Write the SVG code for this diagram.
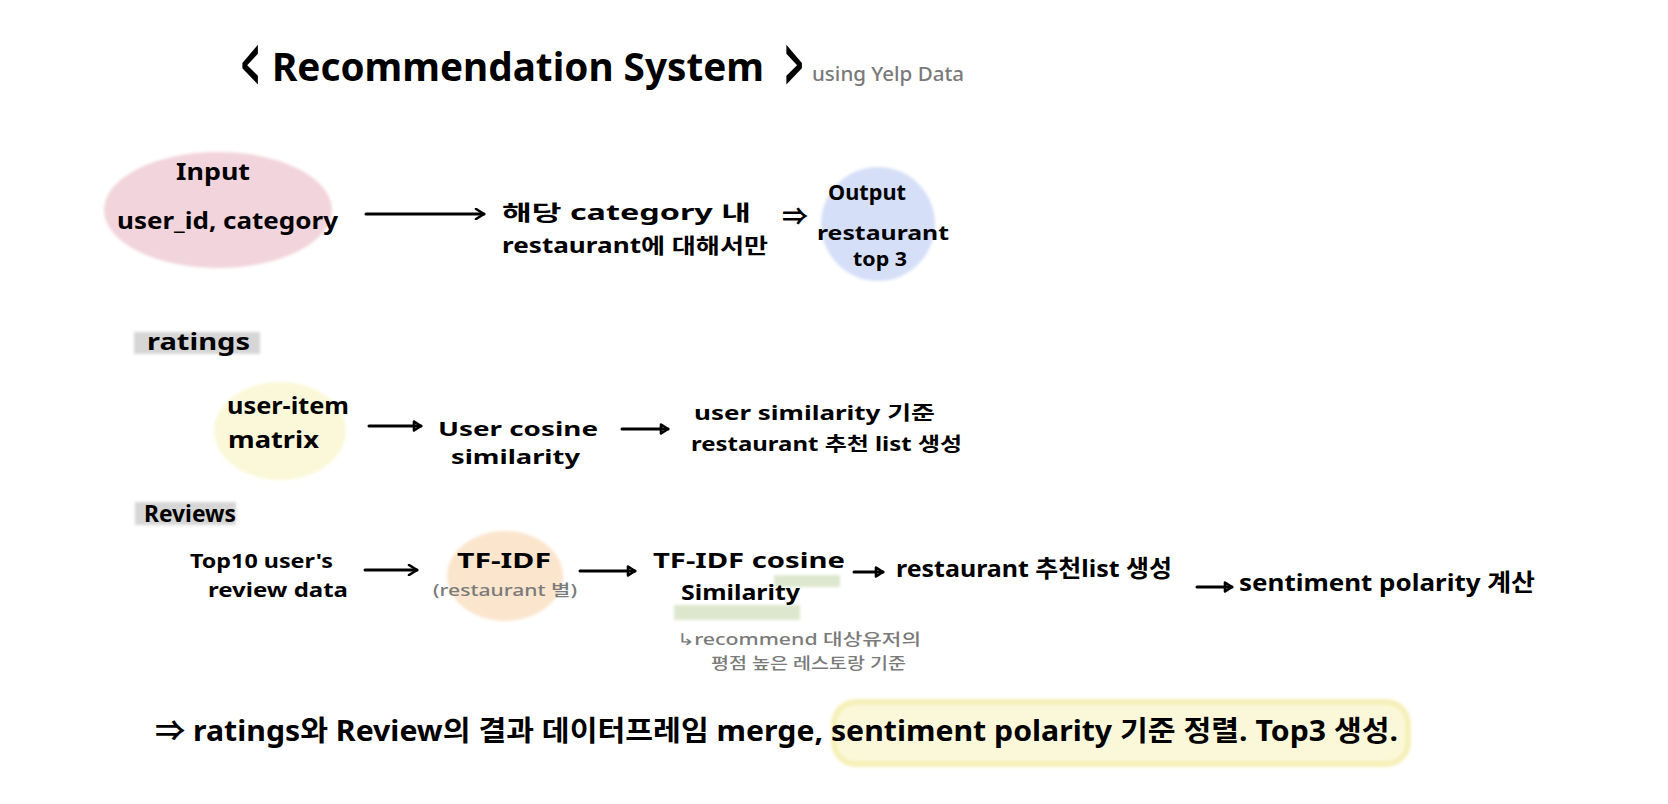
<svg xmlns="http://www.w3.org/2000/svg" width="1668" height="804" viewBox="0 0 1668 804">
<defs>
<filter id="soft" x="-10%" y="-10%" width="120%" height="120%"><feGaussianBlur stdDeviation="1.6"/></filter>
<marker id="open" viewBox="0 0 12 12" refX="10" refY="6" markerWidth="12" markerHeight="12" markerUnits="userSpaceOnUse" orient="auto"><path d="M2,1 L10,6 L2,11" fill="none" stroke="#000" stroke-width="2.6" stroke-linecap="round" stroke-linejoin="round"/></marker>
<marker id="tri" viewBox="0 0 12 12" refX="10" refY="6" markerWidth="12" markerHeight="12" markerUnits="userSpaceOnUse" orient="auto"><path d="M3,1.5 L10,6 L3,10.5 Z" fill="none" stroke="#000" stroke-width="2.6" stroke-linejoin="round"/></marker>
</defs>
<style>
text{font-family:"Noto Sans","Noto Sans CJK KR",sans-serif;font-weight:700;fill:#000}
.t{font-size:39px}
.br{font-family:"Noto Sans",sans-serif;font-size:40px;font-weight:700}
.m{font-size:24px}
.m2{font-size:21px}
.m3{font-size:19px}
.s{font-size:20px;fill:#7a7a7a;font-weight:500}
.s2{font-size:16px;fill:#7a7a7a;font-weight:500}
.b{font-size:28px}
.conn{fill:none;stroke:#000;stroke-width:3;stroke-linecap:round}
</style>
<rect width="1668" height="804" fill="#fff"/>

<g id="title">
<text class="br" transform="translate(241,92) scale(0.8,1.9)">&lt;</text>
<text class="t" x="272" y="81" textLength="492" lengthAdjust="spacingAndGlyphs">Recommendation System</text>
<text class="br" transform="translate(785,92) scale(0.8,1.9)">&gt;</text>
<text class="s" x="812" y="81" textLength="152" lengthAdjust="spacingAndGlyphs">using Yelp Data</text>
</g>

<g id="input">
<ellipse cx="218" cy="210" rx="114" ry="58" fill="#f2d4dc" filter="url(#soft)"/>
<text class="m" x="176" y="180" textLength="74" lengthAdjust="spacingAndGlyphs">Input</text>
<text class="m" x="117" y="229" textLength="221" lengthAdjust="spacingAndGlyphs">user_id, category</text>
</g>

<g id="filter-step">
<text class="m2" x="502" y="220" textLength="249" lengthAdjust="spacingAndGlyphs">해당 category 내</text>
<text class="m2" x="502" y="253" textLength="266" lengthAdjust="spacingAndGlyphs">restaurant에 대해서만</text>
<text class="m" x="782" y="225" textLength="26" lengthAdjust="spacingAndGlyphs">⇒</text>
</g>

<g id="output">
<circle cx="878" cy="224" r="57" fill="#d5dff8" filter="url(#soft)"/>
<text class="m2" x="828" y="200" textLength="78" lengthAdjust="spacingAndGlyphs">Output</text>
<text class="m3" x="817" y="240" textLength="132" lengthAdjust="spacingAndGlyphs">restaurant</text>
<text class="m3" x="853" y="266" textLength="54" lengthAdjust="spacingAndGlyphs">top 3</text>
</g>

<g id="ratings-label">
<rect x="134" y="332" width="126" height="22" fill="#d6d6d6" filter="url(#soft)"/>
<text class="m" x="147" y="350" textLength="103" lengthAdjust="spacingAndGlyphs">ratings</text>
</g>

<g id="user-item">
<ellipse cx="280" cy="431" rx="66" ry="49" fill="#fbf8d9" filter="url(#soft)"/>
<text class="m" x="227" y="414" textLength="122" lengthAdjust="spacingAndGlyphs">user-item</text>
<text class="m" x="228" y="448" textLength="91" lengthAdjust="spacingAndGlyphs">matrix</text>
</g>

<g id="user-cosine">
<text class="m3" x="438" y="436" textLength="160" lengthAdjust="spacingAndGlyphs">User cosine</text>
<text class="m3" x="451" y="464" textLength="129" lengthAdjust="spacingAndGlyphs">similarity</text>
</g>

<g id="user-rec">
<text class="m3" x="694" y="420" textLength="241" lengthAdjust="spacingAndGlyphs">user similarity 기준</text>
<text class="m3" x="691" y="451" textLength="271" lengthAdjust="spacingAndGlyphs">restaurant 추천 list 생성</text>
</g>

<g id="reviews-label">
<rect x="135" y="502" width="101" height="23" fill="#d6d6d6" filter="url(#soft)"/>
<text class="m" x="144" y="522" textLength="92" lengthAdjust="spacingAndGlyphs">Reviews</text>
</g>

<g id="top10">
<text class="m3" x="190" y="568" textLength="143" lengthAdjust="spacingAndGlyphs">Top10 user's</text>
<text class="m3" x="208" y="597" textLength="140" lengthAdjust="spacingAndGlyphs">review data</text>
</g>

<g id="tfidf">
<ellipse cx="505" cy="576" rx="58" ry="45" fill="#fbe5cd" filter="url(#soft)"/>
<text class="m2" x="457" y="568" textLength="94" lengthAdjust="spacingAndGlyphs">TF-IDF</text>
<text class="s2" x="433" y="596" textLength="144" lengthAdjust="spacingAndGlyphs">(restaurant 별)</text>
</g>

<g id="tfidf-cosine">
<rect x="774" y="575" width="66" height="12" fill="#dde7cd" filter="url(#soft)"/>
<rect x="674" y="605" width="126" height="15" fill="#dde7cd" filter="url(#soft)"/>
<text class="m2" x="653" y="568" textLength="192" lengthAdjust="spacingAndGlyphs">TF-IDF cosine</text>
<text class="m2" x="681" y="600" textLength="119" lengthAdjust="spacingAndGlyphs">Similarity</text>
<text class="s2" x="677" y="645" textLength="244" lengthAdjust="spacingAndGlyphs">↳recommend 대상유저의</text>
<text class="s2" x="711" y="669" textLength="195" lengthAdjust="spacingAndGlyphs">평점 높은 레스토랑 기준</text>
</g>

<g id="review-rec">
<text class="m" x="896" y="577" textLength="276" lengthAdjust="spacingAndGlyphs">restaurant 추천list 생성</text>
</g>

<g id="sentiment">
<text class="m" x="1239" y="591" textLength="296" lengthAdjust="spacingAndGlyphs">sentiment polarity 계산</text>
</g>

<g id="summary">
<rect x="834" y="702" width="574" height="62" rx="22" fill="#fbf8da" stroke="#f6f0b8" stroke-width="6" filter="url(#soft)"/>
<text class="b" x="155" y="741" textLength="1243" lengthAdjust="spacingAndGlyphs">⇒ ratings와 Review의 결과 데이터프레임 merge, sentiment polarity 기준 정렬. Top3 생성.</text>
</g>

<g id="connectors">
<path class="conn" d="M366,214 L484,214" marker-end="url(#open)"/>
<path class="conn" d="M369,426 L421,426" marker-end="url(#tri)"/>
<path class="conn" d="M622,429 L668,429" marker-end="url(#tri)"/>
<path class="conn" d="M365,570 L417,570" marker-end="url(#open)"/>
<path class="conn" d="M580,571 L635,571" marker-end="url(#tri)"/>
<path class="conn" d="M854,572 L883,572" marker-end="url(#tri)"/>
<path class="conn" d="M1197,587 L1232,587" marker-end="url(#tri)"/>
</g>
</svg>
